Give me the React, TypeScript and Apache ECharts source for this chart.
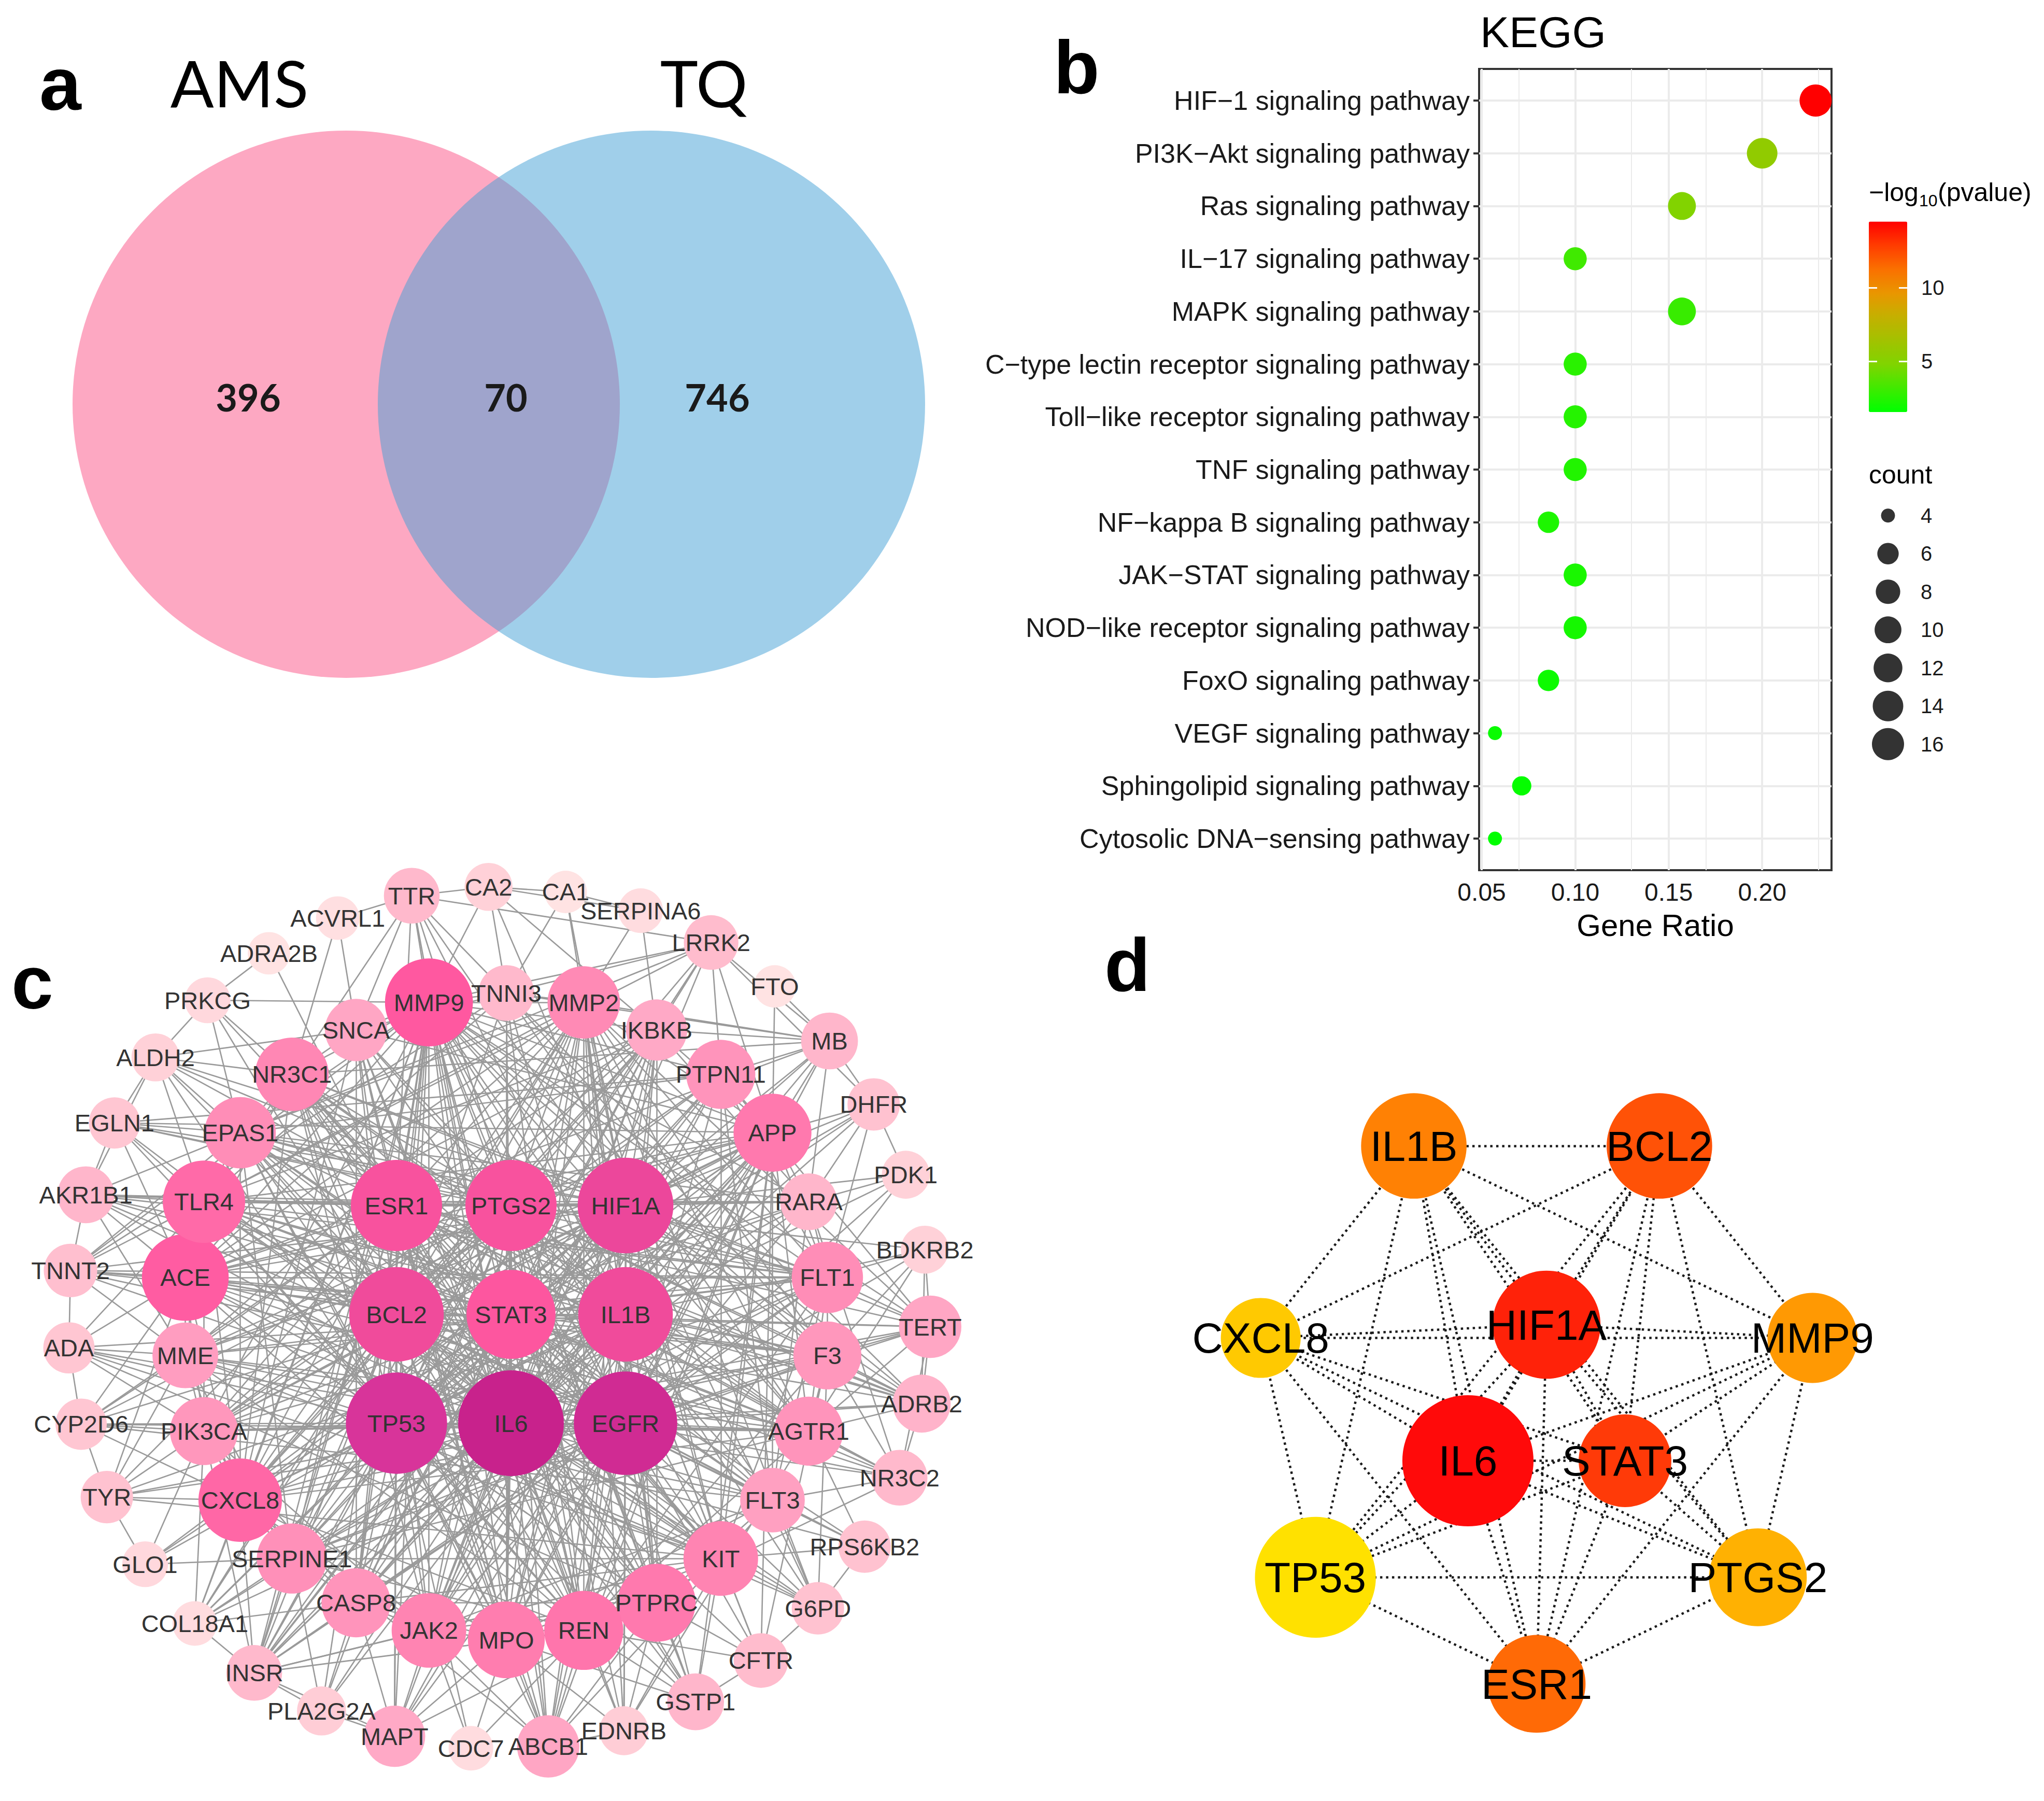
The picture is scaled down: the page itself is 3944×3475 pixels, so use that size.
import React, { useEffect, useRef } from "react";
import * as echarts from "echarts";

const W = 3944;
const H = 3475;
const SANS = "'Liberation Sans', Arial, Helvetica, sans-serif";
const LATO = "Lato, 'Open Sans', 'Liberation Sans', sans-serif";

// ---------------- panel a : Venn ----------------
const vennSets = ["AMS", "TQ"];
const vennCounts = [396, 70, 746]; // AMS only, shared, TQ only

// ---------------- panel b : KEGG dot plot ----------------
const pathways = [
  "HIF\u22121 signaling pathway",
  "PI3K\u2212Akt signaling pathway",
  "Ras signaling pathway",
  "IL\u221217 signaling pathway",
  "MAPK signaling pathway",
  "C\u2212type lectin receptor signaling pathway",
  "Toll\u2212like receptor signaling pathway",
  "TNF signaling pathway",
  "NF\u2212kappa B signaling pathway",
  "JAK\u2212STAT signaling pathway",
  "NOD\u2212like receptor signaling pathway",
  "FoxO signaling pathway",
  "VEGF signaling pathway",
  "Sphingolipid signaling pathway",
  "Cytosolic DNA\u2212sensing pathway",
];
const geneRatio = [0.2286, 0.2, 0.1571, 0.1, 0.1571, 0.1, 0.1, 0.1, 0.0857, 0.1, 0.1, 0.0857, 0.0571, 0.0714, 0.0571];
const geneCount = [16, 14, 11, 7, 11, 7, 7, 7, 6, 7, 7, 6, 4, 5, 4];
const negLogP = [14.47, 5.6, 4.9, 3.2, 3.0, 2.6, 2.5, 2.4, 2.3, 2.2, 2.1, 1.9, 1.8, 1.7, 1.58];
const ratioTicks = [0.05, 0.1, 0.15, 0.2];
const ratioMinor = [0.075, 0.125, 0.175, 0.225];
const pColorTicks = [5, 10];
const countLegend = [4, 6, 8, 10, 12, 14, 16];

// ---------------- panel c : PPI network ----------------
const outerRing = ["CA2", "CA1", "SERPINA6", "LRRK2", "FTO", "MB", "DHFR", "PDK1", "BDKRB2", "TERT", "ADRB2", "NR3C2", "RPS6KB2", "G6PD", "CFTR", "GSTP1", "EDNRB", "ABCB1", "CDC7", "MAPT", "PLA2G2A", "INSR", "COL18A1", "GLO1", "TYR", "CYP2D6", "ADA", "TNNT2", "AKR1B1", "EGLN1", "ALDH2", "PRKCG", "ADRA2B", "ACVRL1", "TTR"];
const outerDegree = [6, 1, 3, 12, 1, 14, 10, 6, 6, 19, 15, 13, 10, 10, 12, 14, 7, 19, 3, 18, 7, 13, 3, 4, 10, 9, 9, 11, 14, 9, 6, 4, 1, 2, 13];
const middleRing = ["TNNI3", "MMP2", "IKBKB", "PTPN11", "APP", "RARA", "FLT1", "F3", "AGTR1", "FLT3", "KIT", "PTPRC", "REN", "MPO", "JAK2", "CASP8", "SERPINE1", "CXCL8", "PIK3CA", "MME", "ACE", "TLR4", "EPAS1", "NR3C1", "SNCA", "MMP9"];
const middleDegree = [13, 28, 18, 25, 33, 14, 27, 24, 25, 21, 30, 33, 34, 32, 30, 25, 26, 38, 24, 22, 41, 37, 27, 29, 19, 42];
const innerGrid = ["ESR1", "PTGS2", "HIF1A", "BCL2", "STAT3", "IL1B", "TP53", "IL6", "EGFR"];
const innerDegree = [45, 45, 49, 48, 43, 48, 54, 58, 56];
const ppiEdges = [
  "IL6 TP53 EGFR HIF1A BCL2 IL1B ESR1 PTGS2 STAT3 MMP9 TNNI3 MMP2 IKBKB PTPN11 APP RARA FLT1 F3 AGTR1 FLT3 KIT PTPRC REN MPO JAK2 CASP8 SERPINE1 CXCL8 PIK3CA MME ACE TLR4 EPAS1 NR3C1 SNCA TTR LRRK2 MB DHFR TERT ADRB2 NR3C2 G6PD CFTR GSTP1 EDNRB ABCB1 MAPT PLA2G2A INSR COL18A1 TYR ADA TNNT2 AKR1B1 EGLN1 ALDH2",
  "TP53 EGFR HIF1A BCL2 IL1B ESR1 PTGS2 STAT3 MMP9 MMP2 IKBKB PTPN11 APP RARA FLT1 F3 AGTR1 FLT3 KIT PTPRC REN MPO JAK2 CASP8 SERPINE1 CXCL8 PIK3CA MME ACE TLR4 EPAS1 NR3C1 SNCA LRRK2 MB DHFR PDK1 TERT RPS6KB2 G6PD GSTP1 ABCB1 CDC7 MAPT INSR COL18A1 GLO1 CYP2D6 ADA EGLN1 ALDH2",
  "EGFR HIF1A BCL2 IL1B ESR1 PTGS2 STAT3 MMP9 MMP2 IKBKB PTPN11 APP RARA FLT1 F3 AGTR1 FLT3 KIT PTPRC REN MPO JAK2 CASP8 SERPINE1 CXCL8 PIK3CA MME ACE TLR4 EPAS1 NR3C1 SNCA TNNI3 MB PDK1 BDKRB2 TERT ADRB2 NR3C2 RPS6KB2 CFTR GSTP1 EDNRB ABCB1 MAPT INSR COL18A1 TYR AKR1B1",
  "HIF1A BCL2 IL1B ESR1 PTGS2 STAT3 MMP9 MMP2 IKBKB APP RARA FLT1 F3 AGTR1 KIT PTPRC REN MPO JAK2 CASP8 SERPINE1 CXCL8 PIK3CA MME ACE TLR4 EPAS1 NR3C1 TTR CA2 CA1 MB DHFR PDK1 TERT ADRB2 G6PD EDNRB ABCB1 INSR GLO1 TNNT2 AKR1B1 EGLN1 ALDH2",
  "BCL2 IL1B ESR1 PTGS2 STAT3 MMP9 TNNI3 MMP2 IKBKB PTPN11 APP FLT1 F3 FLT3 KIT PTPRC REN MPO JAK2 CASP8 SERPINE1 CXCL8 PIK3CA ACE TLR4 EPAS1 NR3C1 SNCA LRRK2 TERT NR3C2 RPS6KB2 G6PD GSTP1 ABCB1 MAPT INSR COL18A1 PRKCG",
  "IL1B ESR1 PTGS2 STAT3 MMP9 MMP2 IKBKB APP F3 AGTR1 KIT PTPRC REN MPO JAK2 CASP8 SERPINE1 CXCL8 PIK3CA MME ACE TLR4 EPAS1 NR3C1 SNCA TTR ADRB2 BDKRB2 CFTR G6PD EDNRB ABCB1 MAPT PLA2G2A INSR TYR ADA TNNT2 ALDH2",
  "ESR1 PTGS2 STAT3 MMP9 MMP2 IKBKB APP RARA FLT1 AGTR1 KIT PTPRC REN MPO CASP8 SERPINE1 CXCL8 PIK3CA MME ACE TLR4 NR3C1 SNCA TERT NR3C2 ADRB2 GSTP1 ABCB1 MAPT INSR CYP2D6 TYR ADRA2B PRKCG AKR1B1 TTR",
  "PTGS2 STAT3 MMP9 MMP2 IKBKB APP F3 AGTR1 FLT3 PTPRC REN MPO JAK2 CASP8 SERPINE1 CXCL8 PIK3CA MME ACE TLR4 EPAS1 NR3C1 SNCA TTR BDKRB2 ADRB2 EDNRB GSTP1 ABCB1 PLA2G2A INSR CYP2D6 ALDH2 EGLN1",
  "STAT3 MMP9 MMP2 IKBKB PTPN11 APP RARA FLT1 F3 AGTR1 FLT3 KIT PTPRC REN MPO JAK2 CASP8 SERPINE1 CXCL8 PIK3CA ACE TLR4 EPAS1 NR3C1 DHFR TERT NR3C2 RPS6KB2 G6PD INSR COL18A1 AKR1B1",
  "MMP9 MMP2 TNNI3 APP TLR4 ACE CXCL8 SERPINE1 MPO REN AGTR1 F3 KIT PTPRC CASP8 FLT1 SNCA NR3C1 EPAS1 TTR CA2 LRRK2 TERT ADRB2 ABCB1 MAPT INSR PLA2G2A COL18A1 TNNT2 PRKCG FLT3 JAK2 PIK3CA IKBKB PTPN11 RARA",
  "MMP2 TNNI3 APP ACE TLR4 CXCL8 SERPINE1 AGTR1 F3 FLT1 REN KIT MME EPAS1 MPO PTPRC CA1 SERPINA6 TERT MB G6PD COL18A1 EDNRB",
  "TNNI3 TTR CA2 CA1 ACE AGTR1 REN TNNT2 ADRB2 MB F3",
  "IKBKB LRRK2 SERPINA6 CA2 TLR4 CXCL8 CASP8 JAK2 PTPRC APP PIK3CA MB RARA MPO",
  "PTPN11 LRRK2 MB APP FLT1 FLT3 KIT JAK2 PIK3CA INSR EGLN1 TERT EPAS1",
  "APP LRRK2 SNCA MB DHFR FTO CASP8 MME MPO AGTR1 PTPN11 RARA FLT1 MAPT GSTP1 CFTR KIT FLT3 REN JAK2 PIK3CA TLR4 ACE ABCB1 INSR EGLN1",
  "RARA DHFR PDK1 MB FLT1 FLT3 CYP2D6 NR3C2 EPAS1 TLR4",
  "FLT1 F3 KIT FLT3 PDK1 DHFR BDKRB2 TERT REN AGTR1 EPAS1 NR3C1 ACE TLR4 SERPINE1 MME INSR AKR1B1 TNNT2 EGLN1",
  "F3 AGTR1 TERT ADRB2 BDKRB2 REN SERPINE1 NR3C2 CFTR G6PD AKR1B1 TNNT2",
  "AGTR1 REN ACE BDKRB2 ADRB2 NR3C2 EDNRB NR3C1 MME TERT RPS6KB2 TLR4 CXCL8 SERPINE1 CYP2D6 TNNT2",
  "FLT3 KIT JAK2 PTPRC NR3C2 RPS6KB2 G6PD MPO TLR4 NR3C1 EPAS1 CYP2D6",
  "KIT PTPRC JAK2 MPO CFTR G6PD RPS6KB2 GSTP1 CASP8 ABCB1 EDNRB ACE TLR4 SERPINE1 NR3C1 EPAS1 MME INSR TYR ADA",
  "PTPRC REN MPO JAK2 CASP8 GSTP1 CFTR EDNRB ABCB1 MAPT ACE NR3C1 ADA",
  "REN MPO ACE EDNRB ABCB1 CFTR GSTP1 NR3C2 CDC7 CXCL8 SERPINE1 SNCA EPAS1 TLR4 MME INSR",
  "MPO JAK2 CASP8 CXCL8 ABCB1 MAPT EDNRB CDC7 GSTP1 SNCA NR3C1 EPAS1 TNNI3",
  "JAK2 CASP8 CXCL8 PIK3CA MAPT ABCB1 INSR CDC7 NR3C1",
  "CASP8 SERPINE1 CXCL8 PIK3CA MAPT PLA2G2A INSR COL18A1 SNCA",
  "SERPINE1 CXCL8 PIK3CA MME COL18A1 INSR GLO1 PLA2G2A EPAS1",
  "CXCL8 PIK3CA MME ACE TLR4 EPAS1 TYR GLO1 CYP2D6 COL18A1 INSR APP NR3C1 SNCA ABCB1",
  "PIK3CA MME ACE TLR4 TYR CYP2D6 ADA INSR COL18A1 GLO1",
  "MME ACE TLR4 ADA CYP2D6 TNNT2 TYR AKR1B1",
  "ACE TLR4 EPAS1 NR3C1 ADA TNNT2 CYP2D6 AKR1B1 EGLN1 TYR IKBKB MB ADRB2",
  "TLR4 EPAS1 NR3C1 AKR1B1 EGLN1 TNNT2 ADA ALDH2 LRRK2 ADRB2",
  "EPAS1 NR3C1 EGLN1 AKR1B1 ALDH2 PRKCG TNNT2 LRRK2 ADRB2",
  "NR3C1 SNCA PRKCG ALDH2 ACVRL1 TTR MB",
  "SNCA TTR ACVRL1 LRRK2 ALDH2",
  "CA2 CA1 TTR SERPINA6",
  "CA1 SERPINA6",
  "TTR ACVRL1 LRRK2",
  "LRRK2 MB DHFR",
  "MB DHFR FTO",
  "DHFR PDK1",
  "BDKRB2 TERT ADRB2",
  "TERT ADRB2 NR3C2",
  "ADRB2 NR3C2",
  "RPS6KB2 G6PD",
  "G6PD CFTR",
  "CFTR GSTP1",
  "EDNRB ABCB1",
  "MAPT PLA2G2A INSR",
  "PLA2G2A INSR",
  "INSR COL18A1",
  "GLO1 TYR",
  "TYR CYP2D6",
  "CYP2D6 ADA",
  "ADA TNNT2",
  "TNNT2 AKR1B1",
  "AKR1B1 EGLN1 ALDH2",
  "EGLN1 ALDH2",
  "ALDH2 PRKCG",
  "PRKCG ADRA2B",
];

// ---------------- panel d : hub genes ----------------
const hubOuter = ["ESR1", "PTGS2", "MMP9", "BCL2", "IL1B", "CXCL8", "TP53"];
const hubInner = ["HIF1A", "STAT3", "IL6"];
const hubRankOrder = ["IL6", "HIF1A", "STAT3", "BCL2", "ESR1", "IL1B", "MMP9", "PTGS2", "CXCL8", "TP53"];
const hubEdges = [
  "IL6 HIF1A STAT3 BCL2 IL1B ESR1 PTGS2 MMP9 CXCL8 TP53",
  "HIF1A STAT3 BCL2 IL1B ESR1 PTGS2 MMP9 CXCL8 TP53",
  "STAT3 BCL2 IL1B ESR1 PTGS2 MMP9 CXCL8 TP53",
  "BCL2 IL1B ESR1 PTGS2 MMP9 CXCL8 TP53",
  "IL1B ESR1 PTGS2 MMP9 CXCL8 TP53",
  "ESR1 PTGS2 MMP9 CXCL8 TP53",
  "PTGS2 MMP9 CXCL8 TP53",
  "MMP9 CXCL8 TP53",
  "CXCL8 TP53",
];

// ---------------- helpers ----------------
function hexToRgb(h: string): number[] {
  const s = h.replace("#", "");
  return [0, 2, 4].map((i) => parseInt(s.slice(i, i + 2), 16));
}
function rgbToHex(c: number[]): string {
  return "#" + c.map((v) => Math.round(Math.max(0, Math.min(255, v))).toString(16).padStart(2, "0")).join("");
}
function lerpStops(stops: [number, string][], v: number): string {
  if (v <= stops[0][0]) return stops[0][1];
  for (let i = 1; i < stops.length; i++) {
    if (v <= stops[i][0]) {
      const [a, ca] = stops[i - 1];
      const [b, cb] = stops[i];
      const t = (v - a) / (b - a);
      const A = hexToRgb(ca), B = hexToRgb(cb);
      return rgbToHex(A.map((x, k) => x + (B[k] - x) * t));
    }
  }
  return stops[stops.length - 1][1];
}
function buildLinks(lists: string[], known: Set<string>) {
  const seen = new Set<string>();
  const out: { source: string; target: string }[] = [];
  lists.forEach((line) => {
    const [src, ...rest] = line.trim().split(/\s+/);
    rest.forEach((t) => {
      if (!known.has(src) || !known.has(t) || src === t) return;
      const k = src < t ? src + "|" + t : t + "|" + src;
      if (seen.has(k)) return;
      seen.add(k);
      out.push({ source: src, target: t });
    });
  });
  return out;
}

const pinkStops: [number, string][] = [
  [1, "#FFE3E3"], [10, "#FFC2D0"], [20, "#FFA3C3"], [30, "#FF84B2"],
  [42, "#FF58A0"], [48, "#F04B9B"], [54, "#D8349A"], [58, "#C8228C"],
];
// evenly spaced stops of the green -> red colour bar
const pColors = ["#00FF00", "#40EA00", "#80D400", "#A2C200", "#C4B000", "#E99600", "#FA7000", "#FF3C00", "#FF0000"];
const sizeB = (c: number) => 27 + 35 * Math.sqrt(Math.max(0, (c - 4) / 12));

function buildOption() {
  // ---- panel c nodes ----
  const degree: Record<string, number> = {};
  const cNodes: any[] = [];
  const addC = (name: string, x: number, y: number, deg: number) => {
    degree[name] = deg;
    cNodes.push({
      name,
      value: [x, y],
      symbolSize: 84 + (deg - 2) * 2.14,
      itemStyle: { color: lerpStops(pinkStops, deg) },
    });
  };
  outerRing.forEach((n, i) => {
    const a = ((-91.4 + (i * 360) / outerRing.length) * Math.PI) / 180;
    addC(n, 963 + 832 * Math.cos(a), 2543 + 832 * Math.sin(a), outerDegree[i]);
  });
  middleRing.forEach((n, i) => {
    const a = ((-90 + (i * 360) / middleRing.length) * Math.PI) / 180;
    addC(n, 977 + 624 * Math.cos(a), 2540 + 624 * Math.sin(a), middleDegree[i]);
  });
  innerGrid.forEach((n, i) => {
    const col = i % 3, row = Math.floor(i / 3);
    addC(n, 986 + (col - 1) * 221, 2536 + (row - 1) * 210, innerDegree[i]);
  });
  const cLinks = buildLinks(ppiEdges, new Set(cNodes.map((d) => d.name)));

  // ---- panel d nodes ----
  const dNodes: any[] = [];
  const addD = (name: string, x: number, y: number) => {
    const rank = hubRankOrder.indexOf(name);
    dNodes.push({
      name,
      value: [x, y],
      symbolSize: 4.95 * degree[name] - 34,
      itemStyle: { color: lerpStops([[0, "#FF0A0A"], [hubRankOrder.length - 1, "#FFE100"]], rank) },
    });
  };
  hubOuter.forEach((n, k) => {
    const a = ((90 - (k * 360) / hubOuter.length) * Math.PI) / 180;
    addD(n, 2965 + 546 * Math.cos(a), 2703 + 546 * Math.sin(a));
  });
  hubInner.forEach((n, k) => {
    const a = ((-90 + (k * 360) / hubInner.length) * Math.PI) / 180;
    addD(n, 2984 + 175 * Math.cos(a), 2731 + 175 * Math.sin(a));
  });
  const dLinks = buildLinks(hubEdges, new Set(dNodes.map((d) => d.name)));

  const rowIdx = pathways.map((_, i) => i);
  const legIdx = countLegend.map((_, i) => i);
  const gridLine = (w: number) => ({ color: "#EBEBEB", width: w, type: "solid" as const });

  const letter = (t: string, x: number, y: number) => ({
    type: "text", x, y, z: 10,
    style: { text: t, fontSize: 145, fontWeight: "bold", fontFamily: SANS, fill: "#000", align: "left", verticalAlign: "middle" },
  });
  const txt = (t: string, x: number, y: number, fs: number, extra: any = {}) => ({
    type: "text", x, y, z: 5,
    style: { text: t, fontSize: fs, fontFamily: SANS, fill: "#000", align: "left", verticalAlign: "middle", ...extra },
  });

  return {
    animation: false,
    backgroundColor: "#ffffff",
    grid: [
      { left: 0, top: 0, width: W, height: H, show: false },
      { left: 2854, top: 133, width: 680, height: 1546, show: true, borderColor: "#333333", borderWidth: 4, backgroundColor: "#ffffff" },
      { left: 3600, top: 958, width: 86, height: 514.5, show: false },
      { left: 3606, top: 427.5, width: 74, height: 367.5, show: false },
    ],
    xAxis: [
      { gridIndex: 0, type: "value", min: 0, max: W, show: false },
      {
        gridIndex: 1, type: "value", min: 0.0486, max: 0.2371,
        axisLine: { show: false },
        axisTick: { show: true, customValues: ratioTicks, length: 11, lineStyle: { color: "#333333", width: 4 } },
        axisLabel: { customValues: ratioTicks, formatter: (v: number) => v.toFixed(2), fontSize: 48, color: "#1a1a1a", margin: 18, fontFamily: SANS },
        splitLine: { show: false },
        name: "Gene Ratio", nameLocation: "middle", nameGap: 76,
        nameTextStyle: { fontSize: 60, color: "#000", fontFamily: SANS },
      },
      { gridIndex: 2, type: "value", min: 0, max: 1, show: false },
      { gridIndex: 3, type: "value", min: 0, max: 1, show: false },
    ],
    yAxis: [
      { gridIndex: 0, type: "value", min: 0, max: H, inverse: true, show: false },
      {
        gridIndex: 1, type: "value", min: -0.6, max: 14.6, inverse: true,
        axisLine: { show: false },
        axisTick: { show: true, customValues: rowIdx, length: 11, lineStyle: { color: "#333333", width: 4 } },
        axisLabel: { customValues: rowIdx, formatter: (v: number) => pathways[Math.round(v)] ?? "", fontSize: 52, color: "#1a1a1a", margin: 18, fontFamily: SANS },
        splitLine: { show: false },
      },
      {
        gridIndex: 2, type: "value", min: -0.5, max: 6.5, inverse: true, position: "right",
        axisLine: { show: false }, axisTick: { show: false }, splitLine: { show: false },
        axisLabel: { customValues: legIdx, formatter: (v: number) => String(countLegend[Math.round(v)] ?? ""), fontSize: 40, color: "#1a1a1a", margin: 20, fontFamily: SANS },
      },
      {
        gridIndex: 3, type: "value", min: 1.58, max: 14.47, position: "left", z: 20,
        axisLine: { show: false }, splitLine: { show: false },
        axisTick: { show: true, inside: true, customValues: pColorTicks, length: 16, lineStyle: { color: "#ffffff", width: 3 } },
        axisLabel: { show: false },
      },
      {
        gridIndex: 3, type: "value", min: 1.58, max: 14.47, position: "right", z: 20,
        axisLine: { show: false }, splitLine: { show: false },
        axisTick: { show: true, inside: true, customValues: pColorTicks, length: 16, lineStyle: { color: "#ffffff", width: 3 } },
        axisLabel: { show: true, customValues: pColorTicks, fontSize: 40, color: "#1a1a1a", margin: 27, fontFamily: SANS },
      },
    ],
    visualMap: [
      {
        type: "continuous", seriesIndex: 2, dimension: 3, min: 1.58, max: 14.47,
        left: 3606, top: 427.5, itemWidth: 74, itemHeight: 367.5, padding: 0,
        calculable: false, realtime: false, hoverLink: false, text: null, showLabel: false,
        inRange: { color: pColors }, z: 5,
      },
    ],
    series: [
      {
        type: "graph", coordinateSystem: "cartesian2d", xAxisIndex: 0, yAxisIndex: 0, layout: "none", z: 2,
        data: cNodes, links: cLinks, symbol: "circle",
        label: { show: true, position: "inside", fontSize: 47, color: "#333333", fontFamily: SANS },
        lineStyle: { color: "#9A9A9A", width: 2.6, opacity: 1, curveness: 0 },
        emphasis: { disabled: true },
      },
      {
        type: "graph", coordinateSystem: "cartesian2d", xAxisIndex: 0, yAxisIndex: 0, layout: "none", z: 2,
        data: dNodes, links: dLinks, symbol: "circle",
        label: { show: true, position: "inside", fontSize: 82, color: "#000000", fontFamily: SANS },
        lineStyle: { color: "#1a1a1a", width: 4.5, opacity: 1, curveness: 0, type: [4.5, 7] },
        emphasis: { disabled: true },
      },
      {
        type: "scatter", xAxisIndex: 1, yAxisIndex: 1, z: 3,
        data: pathways.map((p, i) => [geneRatio[i], i, geneCount[i], negLogP[i], p]),
        symbolSize: (v: number[]) => sizeB(v[2]),
        itemStyle: { opacity: 1 },
        emphasis: { disabled: true },
      },
      {
        type: "scatter", xAxisIndex: 1, yAxisIndex: 1, z: 1, data: [],
        markLine: {
          silent: true, symbol: ["none", "none"], z: 1, animation: false,
          label: { show: false },
          data: [
            ...ratioMinor.map((v) => ({ xAxis: v, lineStyle: gridLine(2) })),
            ...ratioTicks.map((v) => ({ xAxis: v, lineStyle: gridLine(4) })),
            ...rowIdx.map((v) => ({ yAxis: v, lineStyle: gridLine(4) })),
          ],
        },
      },
      {
        type: "scatter", xAxisIndex: 2, yAxisIndex: 2, z: 3,
        data: countLegend.map((c, i) => [0.5, i, c]),
        symbolSize: (v: number[]) => sizeB(v[2]),
        itemStyle: { color: "#000000" },
        emphasis: { disabled: true },
      },
      { type: "scatter", xAxisIndex: 3, yAxisIndex: 3, data: [] },
      { type: "scatter", xAxisIndex: 3, yAxisIndex: 4, data: [] },
    ],
    graphic: [
      { type: "circle", z: 1, shape: { cx: 668, cy: 780, r: 528 }, style: { fill: "#FB5285", opacity: 0.5 } },
      { type: "circle", z: 1, shape: { cx: 1257, cy: 780, r: 528 }, style: { fill: "#419FD5", opacity: 0.5 } },
      { type: "text", x: 462, y: 159, z: 5, style: { text: vennSets[0], fontSize: 124, fontFamily: LATO, fill: "#000", align: "center", verticalAlign: "middle" } },
      { type: "text", x: 1358, y: 159, z: 5, style: { text: vennSets[1], fontSize: 124, fontFamily: LATO, fill: "#000", align: "center", verticalAlign: "middle" } },
      { type: "text", x: 479, y: 766, z: 5, style: { text: String(vennCounts[0]), fontSize: 72, fontWeight: "bold", fontFamily: LATO, fill: "#1a1a1a", align: "center", verticalAlign: "middle" } },
      { type: "text", x: 976, y: 766, z: 5, style: { text: String(vennCounts[1]), fontSize: 72, fontWeight: "bold", fontFamily: LATO, fill: "#1a1a1a", align: "center", verticalAlign: "middle" } },
      { type: "text", x: 1384, y: 766, z: 5, style: { text: String(vennCounts[2]), fontSize: 72, fontWeight: "bold", fontFamily: LATO, fill: "#1a1a1a", align: "center", verticalAlign: "middle" } },
      letter("a", 76, 162),
      letter("b", 2033, 130),
      letter("c", 22, 1896),
      letter("d", 2131, 1862),
      txt("KEGG", 2856, 62, 84),
      txt("\u2212log", 3606, 371, 50),
      txt("10", 3703, 387, 32),
      txt("(pvalue)", 3739, 371, 50),
      txt("count", 3606, 916, 50),
    ],
  };
}

export default function App() {
  const ref = useRef<HTMLDivElement>(null);
  useEffect(() => {
    document.body.style.margin = "0";
    document.body.style.overflow = "hidden";
    if (!ref.current) return;
    const chart = echarts.init(ref.current, undefined, { renderer: "svg" });
    chart.setOption(buildOption() as any);
    return () => chart.dispose();
  }, []);
  return <div ref={ref} style={{ position: "absolute", left: 0, top: 0, width: W, height: H, background: "#fff" }} />;
}
